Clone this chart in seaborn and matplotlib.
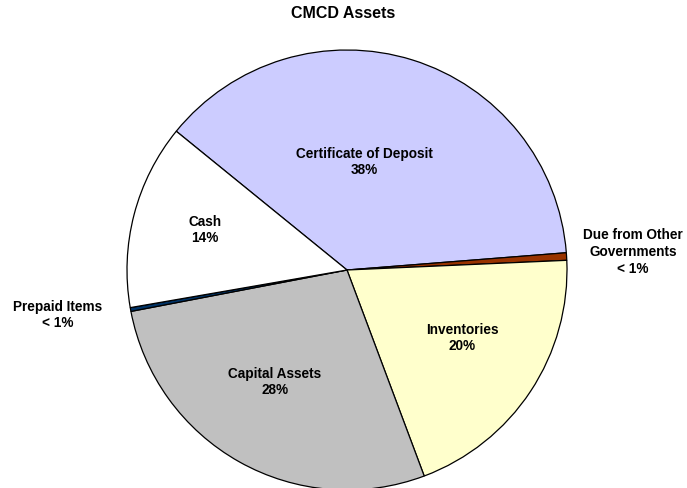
import matplotlib
matplotlib.use('Agg')
import matplotlib.pyplot as plt
import seaborn as sns

# Data
categories = ['Certificate of Deposit', 'Due from Other\nGovernments', 'Inventories',
              'Capital Assets', 'Prepaid Items', 'Cash']
values = [37.9, 0.55, 20.0, 27.7, 0.28, 13.6]
colors = ['#CCCCFF', '#993300', '#FFFFCC', '#C0C0C0', '#003366', '#FFFFFF']

# label positions in pie units (layout only)
label_pos = [(0.08, 0.495), (1.30, 0.086), (0.523, -0.305),
             (-0.327, -0.505), (-1.314, -0.20), (-0.645, 0.186)]

sns.set_style('white')
plt.rcParams['font.family'] = ['Liberation Sans', 'DejaVu Sans']
plt.rcParams['text.color'] = 'black'

fig = plt.figure(figsize=(6.87, 4.89), dpi=100)
cx, cy, r = 347, 271, 220
ax = fig.add_axes([(cx - r) / 687, (489 - cy - r) / 489, 2 * r / 687, 2 * r / 489])

wedges, _ = ax.pie(values, colors=sns.color_palette(colors), startangle=140.9,
                   counterclock=False,
                   wedgeprops={'edgecolor': 'black', 'linewidth': 0.9})
ax.set_xlim(-1, 1)
ax.set_ylim(-1, 1)
ax.axis('off')

total = sum(values)
for name, v, (x, y) in zip(categories, values, label_pos):
    pct = v / total * 100
    pct_txt = '< 1%' if pct < 1 else f'{pct:.0f}%'
    ax.text(x, y, f'{name}\n{pct_txt}', ha='center', va='center', color='black',
            fontsize=9.8, fontweight='bold', linespacing=1.25, clip_on=False)

fig.text(343 / 687, 1 - 14 / 489, 'CMCD Assets', ha='center', va='center',
         color='black', fontsize=11.5, fontweight='bold')

plt.savefig('out.png', dpi=100)
